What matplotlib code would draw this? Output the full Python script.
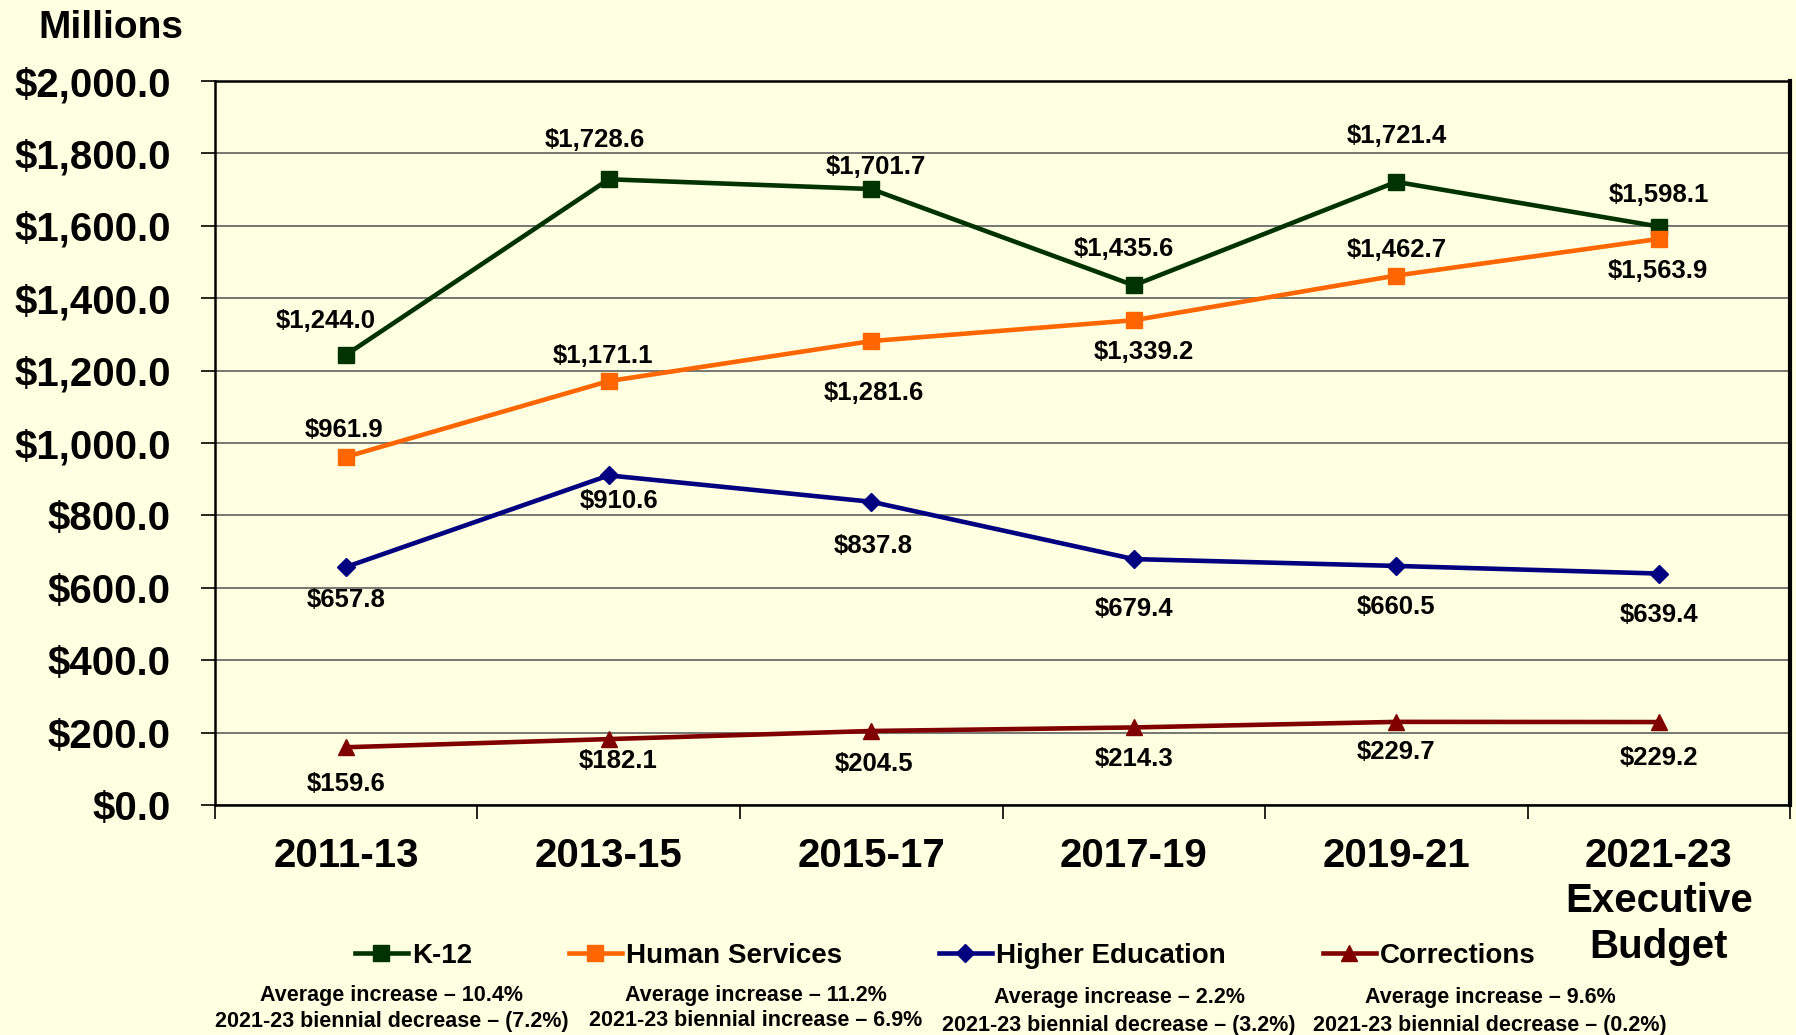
import numpy as np
import matplotlib.pyplot as plt
from matplotlib.ticker import FixedLocator

# biennium budget data (millions)
periods = ['2011-13', '2013-15', '2015-17', '2017-19', '2019-21',
           '2021-23\nExecutive\nBudget']
k12 = [1244.0, 1728.6, 1701.7, 1435.6, 1721.4, 1598.1]
human_services = [961.9, 1171.1, 1281.6, 1339.2, 1462.7, 1563.9]
higher_ed = [657.8, 910.6, 837.8, 679.4, 660.5, 639.4]
corrections = [159.6, 182.1, 204.5, 214.3, 229.7, 229.2]

series_names = ['K-12', 'Human Services', 'Higher Education', 'Corrections']
notes = [
    ('Average increase \u2013 10.4%', '2021-23 biennial decrease \u2013 (7.2%)'),
    ('Average increase \u2013 11.2%', '2021-23 biennial increase \u2013 6.9%'),
    ('Average increase \u2013 2.2%', '2021-23 biennial decrease \u2013 (3.2%)'),
    ('Average increase \u2013 9.6%', '2021-23 biennial decrease \u2013 (0.2%)'),
]

# label offsets in pixels (dx, dy)
off_k12 = [(-21, 34), (-14, 39), (5, 22), (-10, 36), (1, 46), (0, 32)]
off_hs = [(-2, 27), (-6, 25), (3, -52), (10, -32), (0, 26), (-1, -32)]
off_he = [(0, -33), (10, -26), (2, -44), (0, -50), (0, -41), (0, -41)]
off_co = [(0, -37), (9, -22), (3, -33), (0, -32), (0, -30), (0, -36)]

bg = '#FFFFE1'
colors = ['#003300', '#FF6600', '#000080', '#800000']
markers = ['s', 's', 'D', '^']
msizes = [12, 12, 9, 12]

bold = 'Liberation Sans'

fig = plt.figure(figsize=(17.96, 10.35), dpi=100, facecolor=bg)
ax = fig.add_axes([0.1197, 0.2222, 0.877, 0.6995])
ax.set_facecolor(bg)

x = np.arange(len(periods))
lines = []
for vals, offs, c, m, ms, name in zip(
        [k12, human_services, higher_ed, corrections],
        [off_k12, off_hs, off_he, off_co], colors, markers, msizes, series_names):
    ln, = ax.plot(x, vals, color=c, lw=3.3, marker=m, markersize=ms,
                  markeredgecolor=c, label=name, zorder=3)
    lines.append(ln)
    for xi, v, (dx, dy) in zip(x, vals, offs):
        ax.annotate(f'${v:,.1f}', (xi, v), xytext=(dx, dy),
                    textcoords='offset pixels', ha='center', va='center',
                    fontsize=18.5, fontweight='bold', family=bold, color='black')

ax.set_xlim(-0.5, len(periods) - 0.5)
ax.set_ylim(0, 2000)
ax.set_yticks(np.arange(0, 2001, 200))
ax.set_yticklabels([f'${v:,.1f}' for v in np.arange(0, 2001, 200)],
                   fontsize=29, fontweight='bold', family=bold)
ax.yaxis.grid(True, color='#606060', lw=1.2)
ax.set_axisbelow(True)
ax.tick_params(axis='y', length=10, width=1.2, pad=22)

ax.set_xticks(x)
ax.set_xticklabels(periods, fontsize=29, fontweight='bold', family=bold,
                   linespacing=1.25)
ax.tick_params(axis='x', which='major', length=0, pad=23)
ax.xaxis.set_minor_locator(FixedLocator(np.arange(-0.5, len(periods), 1)))
ax.tick_params(axis='x', which='minor', length=10, width=1.2)

for s in ['left', 'bottom', 'top']:
    ax.spines[s].set_linewidth(1.8)
    ax.spines[s].set_color('black')
ax.spines['right'].set_linewidth(3)

fig.text(111 / 1796, 1 - 28 / 1035, 'Millions', ha='center', va='center',
         fontsize=28, fontweight='bold', family=bold)

# legend entries placed one by one
leg_x = [355, 569, 939, 1323]
for ln, lx in zip(lines, leg_x):
    fig.legend(handles=[ln], loc='center left',
               bbox_to_anchor=(lx / 1796, 1 - 956 / 1035),
               frameon=False, handlelength=1.9, handletextpad=0.15,
               borderpad=0, borderaxespad=0,
               prop={'family': bold, 'weight': 'bold', 'size': 20})

note_x = [392, 756, 1119, 1490]
note_y = [(996, 1021), (996, 1021), (998, 1025), (998, 1025)]
for (l1, l2), nx, (y1, y2) in zip(notes, note_x, note_y):
    fig.text(nx / 1796, 1 - y1 / 1035, l1, ha='center', va='center',
             fontsize=15.5, fontweight='bold', family=bold)
    fig.text(nx / 1796, 1 - y2 / 1035, l2, ha='center', va='center',
             fontsize=15.5, fontweight='bold', family=bold)

fig.savefig('out.png', dpi=100, facecolor=bg)
